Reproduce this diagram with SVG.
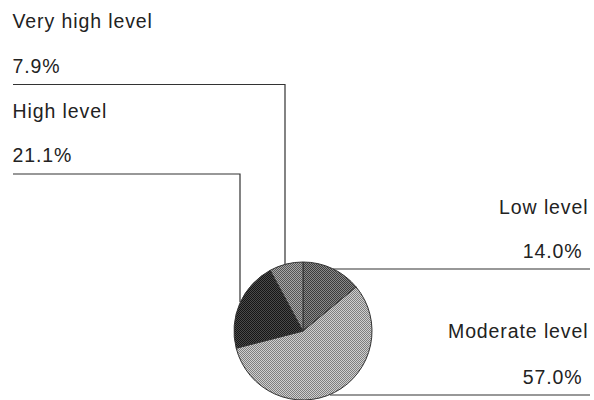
<svg xmlns="http://www.w3.org/2000/svg" width="594" height="400" viewBox="0 0 594 400">
  <defs>
    <!-- 2x2 dither fills for the slices -->
    <pattern id="dither-low" width="2" height="2" patternUnits="userSpaceOnUse">
      <rect width="2" height="2" fill="#8a8a8a"/>
      <rect width="1" height="1" fill="#3c3c3c"/>
      <rect x="1" y="1" width="1" height="1" fill="#3c3c3c"/>
    </pattern>
    <pattern id="dither-moderate" width="2" height="2" patternUnits="userSpaceOnUse">
      <rect width="2" height="2" fill="#cfcfcf"/>
      <rect width="1" height="1" fill="#7e7e7e"/>
      <rect x="1" y="1" width="1" height="1" fill="#7e7e7e"/>
    </pattern>
    <pattern id="dither-high" width="2" height="2" patternUnits="userSpaceOnUse">
      <rect width="2" height="2" fill="#4a4a4a"/>
      <rect width="1" height="1" fill="#151515"/>
      <rect x="1" y="1" width="1" height="1" fill="#151515"/>
    </pattern>
    <pattern id="dither-veryhigh" width="2" height="2" patternUnits="userSpaceOnUse">
      <rect width="2" height="2" fill="#a8a8a8"/>
      <rect width="1" height="1" fill="#555555"/>
      <rect x="1" y="1" width="1" height="1" fill="#555555"/>
    </pattern>
  </defs>
  <style>
    .label { font-family: "Liberation Sans", Arial, sans-serif; font-size: 19.5px; fill: #222; letter-spacing: 0.9px; }
    .end { text-anchor: end; }
    .leader { fill: none; stroke: #333; stroke-width: 1.2; }
    .slice { stroke: #333; stroke-width: 1; }
  </style>

  <!-- pie: centre (303,331), r = 69, clockwise from 12 o'clock -->
  <g id="pie">
    <path id="slice-low" class="slice" fill="url(#dither-low)" d="M303,331 L303,262 A69,69 0 0 1 356.16,287.02 Z"/>
    <path id="slice-moderate" class="slice" fill="url(#dither-moderate)" d="M303,331 L356.16,287.02 A69,69 0 1 1 236.17,348.16 Z"/>
    <path id="slice-high" class="slice" fill="url(#dither-high)" d="M303,331 L236.17,348.16 A69,69 0 0 1 270.18,270.31 Z"/>
    <path id="slice-veryhigh" class="slice" fill="url(#dither-veryhigh)" d="M303,331 L270.18,270.31 A69,69 0 0 1 303,262 Z"/>
  </g>

  <!-- leader lines from the labels to the slices -->
  <g id="connectors">
    <polyline class="leader" points="13,84.5 285,84.5 285,264"/>
    <polyline class="leader" points="13,174 240,174 240,302"/>
    <polyline class="leader" points="333,269 590,269"/>
    <polyline class="leader" points="330,395 590,395"/>
  </g>

  <g id="label-veryhigh">
    <text class="label" x="12.5" y="28">Very high level</text>
    <text class="label" x="12.5" y="73.3">7.9%</text>
  </g>
  <g id="label-high">
    <text class="label" x="12.5" y="117.5">High level</text>
    <text class="label" x="12.5" y="162">21.1%</text>
  </g>
  <g id="label-low">
    <text class="label end" x="588.5" y="213.5">Low level</text>
    <text class="label end" x="582.5" y="257.5">14.0%</text>
  </g>
  <g id="label-moderate">
    <text class="label end" x="588.5" y="338.3">Moderate level</text>
    <text class="label end" x="582.5" y="383.5">57.0%</text>
  </g>
</svg>
